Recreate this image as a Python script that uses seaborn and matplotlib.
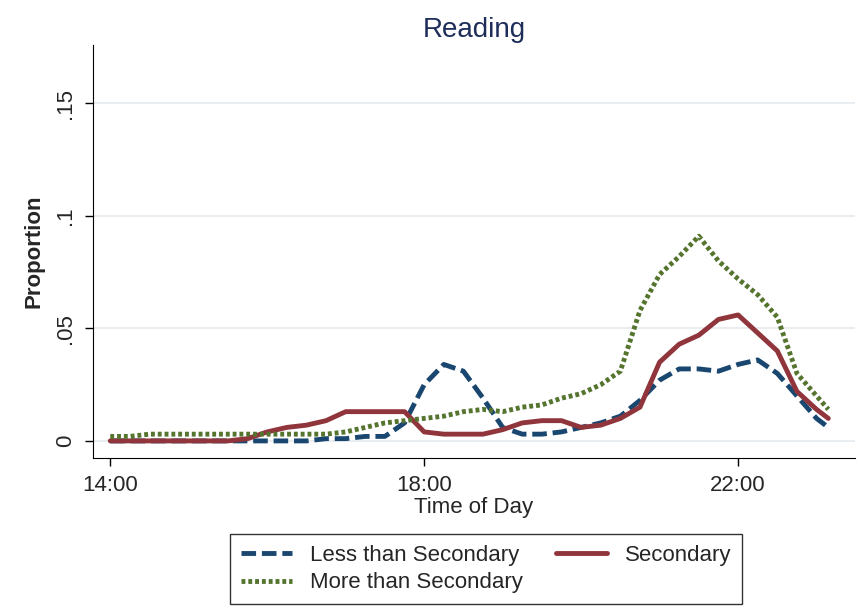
import numpy as np
import pandas as pd
import seaborn as sns
import matplotlib.pyplot as plt

# time of day in hours (15 min steps, last point at ~23:09)
hours = [14.0, 14.25, 14.5, 14.75, 15.0, 15.25, 15.5, 15.75, 16.0, 16.25, 16.5, 16.75,
         17.0, 17.25, 17.5, 17.75, 18.0, 18.25, 18.5, 18.75, 19.0, 19.25, 19.5, 19.75,
         20.0, 20.25, 20.5, 20.75, 21.0, 21.25, 21.5, 21.75, 22.0, 22.25, 22.5, 22.75,
         23.0, 23.15]

less_than_secondary = [0.0, 0.0, 0.0, 0.0, 0.0, 0.0, 0.0, 0.0, 0.0, 0.0, 0.0, 0.001,
                       0.001, 0.002, 0.002, 0.008, 0.025, 0.034, 0.031, 0.019, 0.006, 0.003, 0.003, 0.004,
                       0.006, 0.008, 0.011, 0.018, 0.027, 0.032, 0.032, 0.031, 0.034, 0.036, 0.030, 0.020,
                       0.010, 0.006]
secondary = [0.0, 0.0, 0.0, 0.0, 0.0, 0.0, 0.0, 0.001, 0.004, 0.006, 0.007, 0.009,
             0.013, 0.013, 0.013, 0.013, 0.004, 0.003, 0.003, 0.003, 0.005, 0.008, 0.009, 0.009,
             0.006, 0.007, 0.010, 0.015, 0.035, 0.043, 0.047, 0.054, 0.056, 0.048, 0.040, 0.022,
             0.014, 0.010]
more_than_secondary = [0.002, 0.002, 0.003, 0.003, 0.003, 0.003, 0.003, 0.003, 0.003, 0.003, 0.003, 0.003,
                       0.004, 0.006, 0.008, 0.009, 0.010, 0.011, 0.013, 0.014, 0.013, 0.015, 0.016, 0.019,
                       0.021, 0.025, 0.031, 0.058, 0.074, 0.082, 0.091, 0.080, 0.072, 0.065, 0.055, 0.030,
                       0.020, 0.014]

labels = ["Less than Secondary", "Secondary", "More than Secondary"]
df = pd.DataFrame({"hour": hours,
                   labels[0]: less_than_secondary,
                   labels[1]: secondary,
                   labels[2]: more_than_secondary})
df_long = df.melt(id_vars="hour", var_name="group", value_name="prop")

sns.set_style("white")
plt.rcParams['font.family'] = ['Liberation Sans', 'DejaVu Sans']

fig = plt.figure(figsize=(8.68, 6.11), dpi=100)
ax = fig.add_axes([93 / 868, 1 - 458 / 611, (855 - 93) / 868, (458 - 45) / 611])

palette = {labels[0]: "#1a476f", labels[1]: "#90353b", labels[2]: "#55752f"}
styles = {labels[0]: (3, 1.2), labels[1]: "", labels[2]: (0.8, 0.6)}
sns.lineplot(data=df_long, x="hour", y="prop", hue="group", style="group",
             palette=palette, dashes=styles, linewidth=3.5, ax=ax, legend=False)

ax.set_xlim(13.78, 23.49)
ax.set_ylim(-0.0076, 0.176)
ax.set_xticks([14, 18, 22])
ax.set_xticklabels(["14:00", "18:00", "22:00"], fontsize=16)
ax.set_yticks([0, 0.05, 0.1, 0.15])
ax.set_yticklabels(["0", ".05", ".1", ".15"], fontsize=16, rotation=90, va="center")
ax.yaxis.grid(True, color="#e6eaee", linewidth=1.2)
ax.tick_params(axis="both", direction="out", length=6, width=1, color="black",
               left=True, bottom=True, pad=6)
for side in ["top", "right"]:
    ax.spines[side].set_visible(False)
for side in ["left", "bottom"]:
    ax.spines[side].set_color("black")
ax.set_xlabel("Time of Day", fontsize=16, labelpad=1)
ax.set_ylabel("Proportion", fontsize=16, fontweight="bold", labelpad=8)
ax.set_title("Reading", fontsize=20, color="#1e2d5a", pad=6)

handles = [plt.Line2D([], [], color=palette[l], linewidth=3.5,
                      dashes=styles[l] if styles[l] else (None, None)) for l in labels]
order = [0, 2, 1]  # column-major fill -> row-major look
leg = fig.legend([handles[i] for i in order], [labels[i] for i in order],
                 ncol=2, loc="center", bbox_to_anchor=(486 / 868, 1 - 569 / 611),
                 fontsize=16, frameon=True, fancybox=False, edgecolor="black",
                 handlelength=2.3, columnspacing=1.5, borderpad=0.5, labelspacing=0.3)
leg.get_frame().set_linewidth(1)

fig.savefig("out.png", dpi=100, facecolor="white")
